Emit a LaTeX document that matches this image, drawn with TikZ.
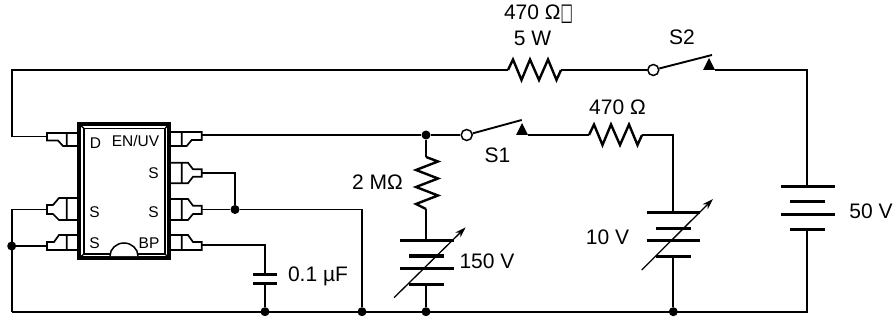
\documentclass[tikz,border=0pt]{standalone}
\usepackage{fontspec}
\setmainfont{Liberation Sans}
\newfontfamily\symfont{DejaVu Sans}
\usetikzlibrary{arrows.meta}
\tikzset{
  wire/.style={line width=1.7pt,line cap=butt,line join=miter},
  res/.style={line width=2.4pt,line join=miter},
  plate/.style={line width=3pt},
  pinline/.style={line width=1.7pt,line join=miter},
  dot/.style={circle,fill=black,inner sep=0pt,minimum size=9pt},
  swc/.style={circle,draw,line width=1.5pt,fill=white,inner sep=0pt,minimum size=11pt},
  lab/.style={font=\fontsize{21}{23}\selectfont,inner sep=0pt},
  iclab/.style={font=\fontsize{15.5}{17}\selectfont,inner sep=0pt},
  varr/.style={line width=1.3pt,-{Stealth[length=11pt,width=7pt]}}
}
\begin{document}
\begin{tikzpicture}[x=1pt,y=-1pt]
\useasboundingbox (0,0) rectangle (896,320);
% IC body
\draw[line width=3.4pt] (79,124) rectangle (169,258);
\draw[line width=1.3pt] (84,128.5) rectangle (165,254);
\draw[line width=1.3pt] (79,124)--(84,128.5) (169,124)--(165,128.5) (79,258)--(84,254) (169,258)--(165,254);
\draw[line width=1.5pt,fill=white] (110,256) arc[start angle=180,end angle=360,x radius=14,y radius=13];
% pins (left)
\draw[pinline] (79,133)--(47,133)--(47,140.5)--(58,140.5)--(63,146)--(79,146) (66.7,133)--(66.7,146);
\draw[pinline] (79,198)--(59,198)--(53,205)--(47,205)--(47,214)--(53,214)--(59,220)--(79,220) (66.7,198)--(66.7,220);
\draw[pinline] (79,235)--(59,235)--(54,242)--(47,242)--(47,250)--(79,250) (66.7,235)--(66.7,250);
% pins (right)
\draw[pinline] (169,132)--(201.7,132)--(201.7,140)--(191.7,140)--(186.7,146)--(169,146) (181.7,132)--(181.7,146);
\draw[pinline] (169,162.7)--(188,162.7)--(193,169.3)--(201.7,169.3)--(201.7,176.7)--(193,176.7)--(188,183.3)--(169,183.3) (181.7,162.7)--(181.7,183.3);
\draw[pinline] (169,199)--(188,199)--(193,205.7)--(201.7,205.7)--(201.7,214)--(193,214)--(188,220)--(169,220) (181.7,199)--(181.7,220);
\draw[pinline] (169,235)--(188,235)--(193,242)--(201.7,242)--(201.7,250)--(169,250) (181.7,235)--(181.7,250);
% pin ends
\coordinate (pD) at (47,136.5);
\coordinate (pS2) at (47,209.5);
\coordinate (pS1) at (47,246);
\coordinate (pEN) at (201.7,135);
\coordinate (pSa) at (201.7,172.8);
\coordinate (pSb) at (201.7,209.5);
\coordinate (pBP) at (201.7,245);
% pin labels
\node[iclab,anchor=center] (lD) at (95.5,143) {D};
\node[iclab,anchor=center] (lEN) at (135.5,140.5) {EN/UV};
\node[iclab,anchor=center] (lSr1) at (153.5,173) {S};
\node[iclab,anchor=center] (lSr2) at (153.5,212) {S};
\node[iclab,anchor=center] (lSl1) at (94.5,212) {S};
\node[iclab,anchor=center] (lSl2) at (94.5,243) {S};
\node[iclab,anchor=center] (lBP) at (149,243) {BP};
% junctions
\node[dot] (jS) at (235,209.5) {};
\node[dot] (jL) at (11.7,246) {};
\node[dot] (jC) at (265,311.7) {};
\node[dot] (jR) at (362,311.7) {};
\node[dot] (jV) at (426,311.7) {};
\node[dot] (jT) at (426,135) {};
\node[dot] (jB) at (673.3,311.7) {};
\coordinate (tl) at (12,70);
\coordinate (tr) at (807,70);
\coordinate (br) at (807,311.7);
\coordinate (bl) at (11.7,311.7);
% top branch
\coordinate (r1a) at (508,70);
\coordinate (r1b) at (561,70);
\node[swc] (s2) at (653.3,70) {};
\coordinate (s2c) at (715,70);
\draw[wire] (pD)-|(tl)--(r1a);
\draw[res] (r1a)--(513,59.5)--(521.5,80)--(530,59.5)--(539,80)--(548,59.5)--(556.5,80)--(r1b);
\draw[wire] (r1b)--(s2);
\draw[wire] (s2c)--(tr)--(807,186.7);
\draw[wire,line width=1.9pt] (s2)--(712,55);
\fill (703,70)--(715,70)--(709,58)--cycle;
% middle branch
\node[swc] (s1) at (466.7,135) {};
\coordinate (r2a) at (589,135);
\coordinate (r2b) at (642,135);
\coordinate (v10) at (673.3,135);
\draw[wire] (pEN)--(jT)--(s1);
\draw[wire,line width=1.9pt] (s1)--(521.7,120);
\fill (516,135)--(528,135)--(522,123)--cycle;
\draw[wire] (528,135)--(r2a);
\draw[res] (r2a)--(594,124.5)--(602.5,145)--(611,124.5)--(620,145)--(629,124.5)--(637.5,145)--(r2b);
\draw[wire] (r2b)--(v10)--(673.3,212.7);
% IC wires
\draw[wire] (pSa)-|(jS);
\draw[wire] (pSb)--(jS)--(362,209.5)--(jR);
\draw[wire] (pS2)-|(bl);
\draw[wire] (pS1)--(jL);
\draw[wire] (pBP)-|(265,274);
\draw[plate] (253.3,274)--(276.7,274) (253.3,283.3)--(276.7,283.3);
\draw[wire] (265,283.3)--(jC);
\draw[wire] (bl)--(br)--(807,230);
% 2 M resistor and variable source
\draw[wire] (jT)--(426,157);
\draw[res] (426,157)--(438,161.5)--(416,170)--(438,178.5)--(416,187)--(438,195.5)--(416,204)--(426,209);
\draw[wire] (426,209)--(426,240.7);
\draw[plate] (400,240.7)--(454,240.7) (409,256)--(444,256) (400,268.7)--(454,268.7) (409,284)--(444,284);
\draw[wire] (426,284)--(jV);
\draw[varr] (394,297.7)--(465.7,227.3);
% 10 V
\draw[plate] (646.7,212.7)--(700,212.7) (655.7,228.3)--(691,228.3) (646.7,241)--(700,241) (655.7,256.7)--(691,256.7);
\draw[wire] (673.3,256.7)--(jB);
\draw[varr] (641.7,270)--(713,199);
% 50 V
\draw[plate] (781,186.7)--(835,186.7) (790,201.7)--(825,201.7) (781,214.3)--(835,214.3) (790,230)--(825,230);
% labels
\node[lab] (l470a) at (538.5,14) {470 Ω{\symfont\raisebox{-0.5pt}{\scalebox{0.62}[1.15]{□}}}};
\node[lab] (l5w) at (532.5,38) {5 W};
\node[lab] (ls2) at (682,37) {S2};
\node[lab] (l470b) at (617.5,107) {470 Ω};
\node[lab] (ls1) at (497.5,155) {S1};
\node[lab] (l2m) at (377.5,182) {2 MΩ};
\node[lab] (l150) at (487,261) {150 V};
\node[lab] (l10) at (607.5,237) {10 V};
\node[lab] (l50) at (871,211) {50 V};
\node[lab] (lcap) at (318,276) {0.1 µF};
\end{tikzpicture}
\end{document}
